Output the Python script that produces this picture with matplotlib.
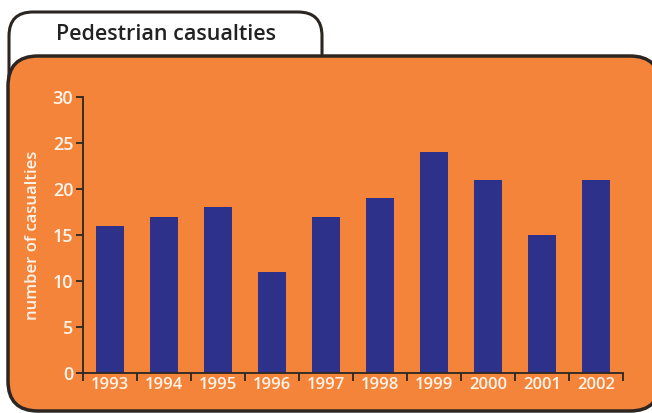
import matplotlib
matplotlib.use('Agg')
import matplotlib.pyplot as plt
from matplotlib.patches import FancyBboxPatch

years = ['1993', '1994', '1995', '1996', '1997', '1998', '1999', '2000', '2001', '2002']
casualties = [16, 17, 18, 11, 17, 19, 24, 21, 15, 21]
y_ticks = [0, 5, 10, 15, 20, 25, 30]

orange = '#F5843B'
navy = '#2E3189'
txt = '#FFF4EA'
dark = '#2b2622'

plt.rcParams['font.family'] = ['Open Sans', 'DejaVu Sans']

W, H = 652, 413
fig = plt.figure(figsize=(W / 100, H / 100), dpi=100)
fig.patch.set_facecolor('white')

# background layer in pixel coords
bg = fig.add_axes([0, 0, 1, 1])
bg.set_xlim(0, W)
bg.set_ylim(H, 0)
bg.axis('off')

tab = FancyBboxPatch((9, 12), 313, 90, boxstyle='round,pad=0,rounding_size=24',
                     fc='white', ec=dark, lw=2.2)
bg.add_patch(tab)
bg.text(166, 34, 'Pedestrian casualties', ha='center', va='center',
        fontsize=15.5, color='#222222', fontweight='semibold')

# right edge runs past the figure
panel = FancyBboxPatch((8, 56), 652, 355, boxstyle='round,pad=0,rounding_size=30',
                       fc=orange, ec=dark, lw=2.5)
bg.add_patch(panel)

bg.text(33, 235, 'number of casualties', rotation=90, ha='center', va='center',
        fontsize=12, color=txt, fontweight='semibold')

# chart
ax = fig.add_axes([83 / W, (H - 373) / H, 540 / W, 276 / H])
ax.set_facecolor('none')
x = range(len(years))
ax.bar(x, casualties, width=0.52, color=navy, zorder=2)
ax.set_xlim(-0.5, len(years) - 0.5)
ax.set_ylim(0, 30)

ax.set_yticks(y_ticks)
ax.set_yticklabels([str(v) for v in y_ticks])
ax.set_xticks([i - 0.5 for i in range(len(years) + 1)], minor=False)
ax.set_xticklabels([])
ax.set_xticks(list(x), minor=True)
ax.set_xticklabels(years, minor=True)

ax.tick_params(axis='y', direction='out', length=5, width=1.3, color=dark,
               labelcolor=txt, labelsize=13, pad=2)
ax.tick_params(axis='x', which='major', direction='out', length=6, width=1.3, color=dark)
ax.tick_params(axis='x', which='minor', length=0, labelcolor=txt, labelsize=12, pad=3)
for lab in ax.get_yticklabels() + ax.get_xticklabels(minor=True):
    lab.set_fontweight('semibold')

for s in ['top', 'right']:
    ax.spines[s].set_visible(False)
for s in ['left', 'bottom']:
    ax.spines[s].set_color(dark)
    ax.spines[s].set_linewidth(1.3)

fig.savefig('out.png', dpi=100)
